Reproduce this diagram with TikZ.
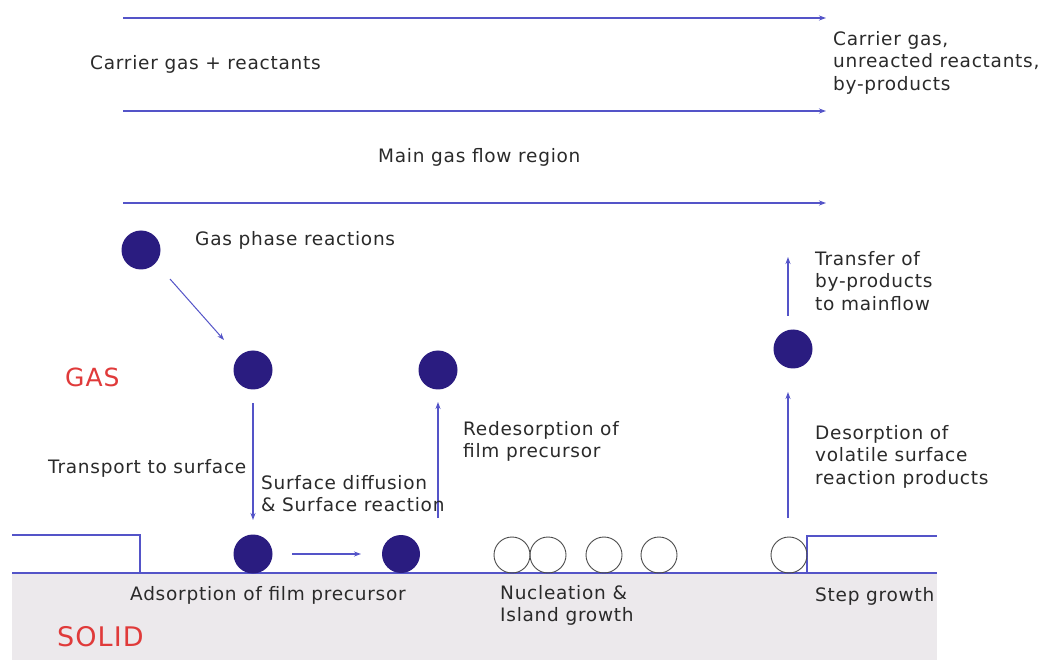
\documentclass[tikz,border=0pt]{standalone}
\usepackage{fontspec}
\setmainfont{DejaVu Sans}[LetterSpace=4]
\usetikzlibrary{arrows.meta}
\definecolor{lineblue}{HTML}{5454C8}
\definecolor{dotblue}{HTML}{2A1C80}
\definecolor{solidgray}{HTML}{ECE9EC}
\definecolor{redtxt}{HTML}{E03A3A}
\definecolor{txt}{HTML}{2A2A2A}
\begin{document}
\begin{tikzpicture}[x=1pt,y=-1pt,
  flow/.style={draw=lineblue,line width=1.4pt,-{Stealth[length=7pt,width=5pt]}},
  surf/.style={draw=lineblue,line width=1.4pt},
  dot/.style={circle,fill=dotblue,minimum size=39pt,inner sep=0pt},
  hollow/.style={circle,draw=black!70,line width=0.9pt,minimum size=36pt,inner sep=0pt},
  lbl/.style={font=\fontsize{18.5}{22.5}\selectfont,text=txt,anchor=west,align=left,inner sep=0pt},
  redlbl/.style={font=\fontsize{25}{28}\selectfont,text=redtxt,anchor=west,inner sep=0pt}]
\useasboundingbox (0,0) rectangle (1042,660);
\fill[white] (0,0) rectangle (1042,660);
% solid region
\fill[solidgray] (12,573) rectangle (937,660);
% flow arrows
\coordinate (f1a) at (123,18);  \coordinate (f1b) at (826,18);
\coordinate (f2a) at (123,111); \coordinate (f2b) at (826,111);
\coordinate (f3a) at (123,203); \coordinate (f3b) at (826,203);
\draw[flow] (f1a) -- (f1b);
\draw[flow] (f2a) -- (f2b);
\draw[flow] (f3a) -- (f3b);
\node[lbl] (cg) at (90,64) {Carrier gas + reactants};
\node[lbl,anchor=north west] (out) at (833,31) {Carrier gas,\\unreacted reactants,\\by-products};
\node[lbl] (main) at (378,157) {Main gas flow region};
% surface profile
\coordinate (s0) at (12,535); \coordinate (s1) at (140,535); \coordinate (s2) at (140,573);
\coordinate (s3) at (12,573); \coordinate (s4) at (937,573);
\coordinate (s5) at (807,573); \coordinate (s6) at (807,536); \coordinate (s7) at (937,536);
\draw[surf] (s0) -- (s1) -- (s2);
\draw[surf] (s3) -- (s4);
\draw[surf] (s5) -- (s6) -- (s7);
% gas-phase dots
\node[dot] (g1) at (141,250) {};
\node[lbl] (gpr) at (195,240) {Gas phase reactions};
\node[dot] (g2) at (253,370) {};
\node[dot] (g3) at (438,370) {};
\node[dot] (g4) at (793,349) {};
\node[redlbl] (gas) at (65,377) {GAS};
\node[redlbl,font=\fontsize{27}{30}\selectfont] (solid) at (57,637) {SOLID};
% surface dots
\node[dot] (a1) at (253,554) {};
\node[dot,minimum size=38pt] (a2) at (401,554) {};
\node[hollow] (h1) at (512,555) {};
\node[hollow] (h2) at (548,555) {};
\node[hollow] (h3) at (604,555) {};
\node[hollow] (h4) at (659,555) {};
\node[hollow] (h5) at (789,555) {};
% arrows
\coordinate (d1a) at (170,279); \coordinate (d1b) at (224,340);
\draw[flow,line width=1pt] (d1a) -- (d1b);
\coordinate (t1a) at (253,403); \coordinate (t1b) at (253,520);
\draw[flow,line width=1.2pt] (t1a) -- (t1b);
\coordinate (r1a) at (438,518); \coordinate (r1b) at (438,402);
\draw[flow,line width=1.2pt] (r1a) -- (r1b);
\coordinate (sd1) at (292,554); \coordinate (sd2) at (361,554);
\draw[flow,line width=1.2pt] (sd1) -- (sd2);
\coordinate (u1a) at (788,518); \coordinate (u1b) at (788,392);
\draw[flow,line width=1.2pt] (u1a) -- (u1b);
\coordinate (u2a) at (788,316); \coordinate (u2b) at (788,257);
\draw[flow,line width=1.2pt] (u2a) -- (u2b);
% labels
\node[lbl] (tts) at (48,468) {Transport to surface};
\node[lbl,anchor=north west] (sdl) at (261,475) {Surface diffusion\\\& Surface reaction};
\node[lbl,anchor=north west] (red) at (463,421) {Redesorption of\\film precursor};
\node[lbl,anchor=north west] (tr) at (815,251) {Transfer of\\by-products\\to mainflow};
\node[lbl,anchor=north west] (des) at (815,425) {Desorption of\\volatile surface\\reaction products};
\node[lbl] (ads) at (130,595) {Adsorption of film precursor};
\node[lbl,anchor=north west] (nuc) at (500,585) {Nucleation \&\\Island growth};
\node[lbl] (sg) at (815,596) {Step growth};
\end{tikzpicture}
\end{document}
